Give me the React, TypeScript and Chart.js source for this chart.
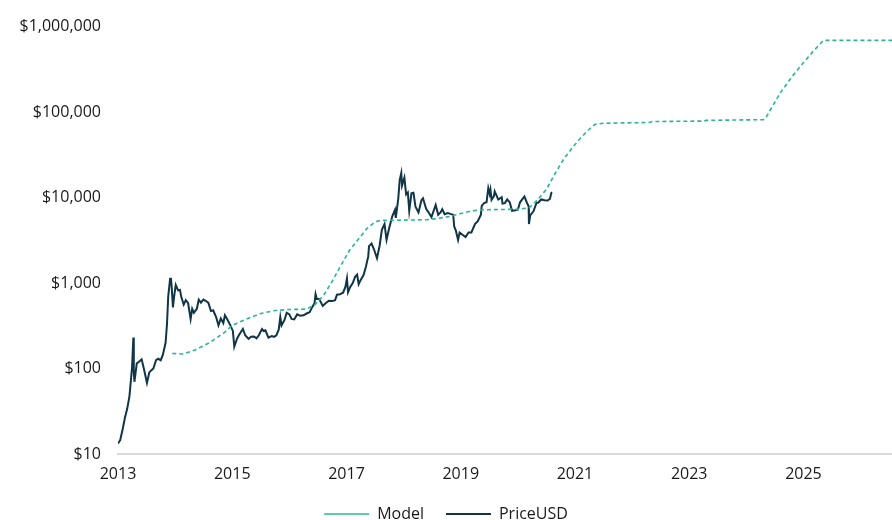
import React, { useEffect, useRef } from "react";
import { Chart, registerables } from "chart.js";

Chart.register(...registerables);

// ---- Data ----
const priceDates: string[] = [
  "2013-01-01","2013-01-15","2013-02-01","2013-02-15","2013-03-01","2013-03-15","2013-04-01","2013-04-09","2013-04-12","2013-04-16",
  "2013-05-01","2013-05-15","2013-06-01","2013-06-15","2013-07-05","2013-07-20","2013-08-01","2013-08-15","2013-09-01","2013-09-15",
  "2013-10-01","2013-10-15","2013-11-01","2013-11-10","2013-11-18","2013-11-30","2013-12-05","2013-12-10","2013-12-18","2013-12-25",
  "2014-01-05","2014-01-20","2014-02-01","2014-02-10","2014-02-25","2014-03-10","2014-03-25","2014-04-10","2014-04-20","2014-05-01",
  "2014-05-20","2014-06-01","2014-06-15","2014-07-01","2014-07-15","2014-08-01","2014-08-18","2014-09-01","2014-09-20","2014-10-05",
  "2014-10-20","2014-11-05","2014-11-15","2014-12-01","2014-12-20",
  "2015-01-05","2015-01-14","2015-02-01","2015-02-15","2015-03-10","2015-03-25","2015-04-15","2015-05-01","2015-05-20","2015-06-05",
  "2015-06-20","2015-07-10","2015-07-20","2015-08-01","2015-08-20","2015-09-10","2015-09-25","2015-10-10","2015-10-25","2015-11-04",
  "2015-11-12","2015-12-01","2015-12-15",
  "2016-01-01","2016-01-15","2016-02-01","2016-02-20","2016-03-10","2016-04-01","2016-04-20","2016-05-10","2016-05-28","2016-06-10",
  "2016-06-17","2016-06-25","2016-07-10","2016-08-02","2016-08-20","2016-09-10","2016-10-01","2016-10-20","2016-11-01","2016-11-20",
  "2016-12-10","2016-12-25",
  "2017-01-04","2017-01-11","2017-01-25","2017-02-10","2017-02-25","2017-03-10","2017-03-20","2017-04-01","2017-04-20","2017-05-05",
  "2017-05-20","2017-05-25","2017-06-10","2017-06-25","2017-07-15","2017-08-01","2017-08-15","2017-09-01","2017-09-14","2017-10-01",
  "2017-10-20","2017-11-07","2017-11-12","2017-11-28","2017-12-07","2017-12-17","2017-12-22",
  "2018-01-06","2018-01-17","2018-01-28","2018-02-06","2018-02-20","2018-03-05","2018-03-18","2018-04-06","2018-04-25","2018-05-05",
  "2018-05-25","2018-06-10","2018-06-28","2018-07-25","2018-08-10","2018-08-25","2018-09-05","2018-09-20","2018-10-10","2018-11-01",
  "2018-11-14","2018-11-20","2018-12-01","2018-12-15","2018-12-25",
  "2019-01-10","2019-02-01","2019-02-20","2019-03-10","2019-04-02","2019-04-20","2019-05-10","2019-05-15","2019-05-30","2019-06-15",
  "2019-06-26","2019-07-05","2019-07-10","2019-07-17","2019-08-01","2019-08-06","2019-08-29","2019-09-20","2019-09-25","2019-10-10",
  "2019-10-25","2019-11-10","2019-11-25","2019-12-15",
  "2020-01-01","2020-01-15","2020-02-12","2020-02-28","2020-03-10","2020-03-12","2020-03-20","2020-04-10","2020-04-30","2020-05-10",
  "2020-05-30","2020-06-20","2020-07-10","2020-07-25","2020-08-02","2020-08-08"
];
const priceValues: number[] = [
  13.3,14.5,20,27,34,47,104,230,90,70,
  115,120,128,100,68,90,95,100,125,130,
  125,145,200,330,700,1120,1150,900,520,680,
  950,820,830,680,560,630,580,380,500,450,
  500,640,590,640,620,590,470,480,400,320,
  385,340,420,375,320,
  275,180,225,250,290,245,222,235,237,225,
  245,290,275,280,230,240,235,245,285,400,
  320,370,450,
  430,380,375,430,415,420,440,455,530,580,
  740,650,650,540,580,620,615,630,730,740,
  770,900,
  1130,780,900,1000,1180,1250,970,1080,1240,1550,
  2050,2700,2900,2500,1950,2750,4200,4900,3200,4400,
  6000,7200,5800,9800,16000,19300,13800,
  17100,10900,11500,7000,11200,11400,7800,6700,9300,9800,
  7400,6700,5900,8200,6300,6700,7300,6400,6600,6400,
  6300,4600,4100,3200,3900,
  3700,3450,3900,3900,4900,5300,6300,8000,8600,8800,
  12900,11000,12300,9400,10400,11800,9500,10100,8500,8600,
  9500,8800,7000,7100,
  7200,8800,10300,8700,7900,4900,6200,6900,8700,8700,
  9500,9300,9250,9700,11300,11500
];

const modelYears: number[] = [
  2013.95,2014.15,2014.35,2014.6,2014.85,2015.0,2015.25,2015.5,2015.75,2016.0,
  2016.3,2016.45,2016.6,2016.75,2016.9,2017.05,2017.2,2017.35,2017.5,2017.6,
  2018.0,2018.4,2018.6,2018.8,2019.0,2019.2,2019.4,2019.7,2020.0,2020.2,
  2020.35,2020.5,2020.65,2020.8,2020.95,2021.1,2021.25,2021.35,2021.5,2022.3,
  2022.35,2023.25,2023.3,2024.3,2024.35,2024.45,2024.6,2024.8,2025.0,2025.2,
  2025.35,2026.6
];
const modelValues: number[] = [
  150,148,165,200,260,320,380,440,478,490,
  495,560,720,1050,1600,2400,3200,4300,5200,5400,
  5450,5500,5700,6000,6500,7000,7200,7250,7300,7600,
  9500,12500,19000,28000,38000,50000,63000,72000,74000,75500,
  77500,78500,80000,81500,88000,115000,170000,260000,380000,540000,
  690000,690000
];

const xTicks: number[] = [2013, 2015, 2017, 2019, 2021, 2023, 2025];
const yTicks: number[] = [10, 100, 1000, 10000, 100000, 1000000];

const X_MIN = 2013;
const X_MAX = 2026.55;

function toDecimalYear(s: string): number {
  const [y, m, d] = s.split("-").map(Number);
  const start = Date.UTC(y, 0, 1);
  const end = Date.UTC(y + 1, 0, 1);
  const t = Date.UTC(y, m - 1, d);
  return y + (t - start) / (end - start);
}

const FONT = "'Open Sans', sans-serif";

export default function App() {
  const ref = useRef<HTMLCanvasElement | null>(null);
  useEffect(() => {
    if (!ref.current) return;
    const modelData = modelYears.map((x, i) => ({ x, y: modelValues[i] }));
    const priceData = priceDates.map((d, i) => ({ x: toDecimalYear(d), y: priceValues[i] }));
    const chart = new Chart(ref.current, {
      type: "line",
      data: {
        datasets: [
          {
            label: "Model",
            data: modelData,
            borderColor: "#2bb596",
            backgroundColor: "#2bb596",
            borderWidth: 1.6,
            borderDash: [4, 3],
            pointRadius: 0,
            tension: 0,
          },
          {
            label: "PriceUSD",
            data: priceData,
            borderColor: "#0f3547",
            backgroundColor: "#0f3547",
            borderWidth: 2,
            pointRadius: 0,
            tension: 0,
          },
        ],
      },
      options: {
        animation: false,
        responsive: true,
        maintainAspectRatio: false,
        parsing: false as any,
        layout: { padding: { top: 8, right: 0, left: 0, bottom: -12 } },
        plugins: {
          tooltip: { enabled: false },
          legend: {
            position: "bottom",
            labels: {
              usePointStyle: true,
              pointStyle: "line",
              pointStyleWidth: 45,
              boxHeight: 2,
              padding: 22,
              color: "#1a1a1a",
              font: { family: FONT, size: 16 },
            },
          },
        },
        scales: {
          x: {
            type: "linear",
            min: X_MIN,
            max: X_MAX,
            grid: { display: false, drawTicks: false },
            border: { display: true, color: "#d9d9d9", width: 2 },
            afterBuildTicks: (scale: any) => {
              scale.ticks = xTicks.map((v) => ({ value: v }));
            },
            afterFit: (scale: any) => {
              scale.height = 30;
            },
            ticks: {
              padding: 11,
              maxRotation: 0,
              color: "#1a1a1a",
              font: { family: FONT, size: 16 },
              callback: (v: any) => String(v),
            },
          },
          y: {
            type: "logarithmic",
            min: 10,
            max: 1000000,
            grid: { display: false, drawTicks: false },
            border: { display: false },
            afterBuildTicks: (scale: any) => {
              scale.ticks = yTicks.map((v) => ({ value: v }));
            },
            afterFit: (scale: any) => {
              scale.width = 118;
            },
            ticks: {
              padding: 17,
              color: "#1a1a1a",
              font: { family: FONT, size: 16 },
              callback: (v: any) => "$" + Number(v).toLocaleString("en-US"),
            },
          },
        },
      },
    });
    return () => chart.destroy();
  }, []);
  return (
    <div style={{ position: "fixed", left: 0, top: 0, width: 892, height: 520 }}>
      <canvas ref={ref} />
    </div>
  );
}
